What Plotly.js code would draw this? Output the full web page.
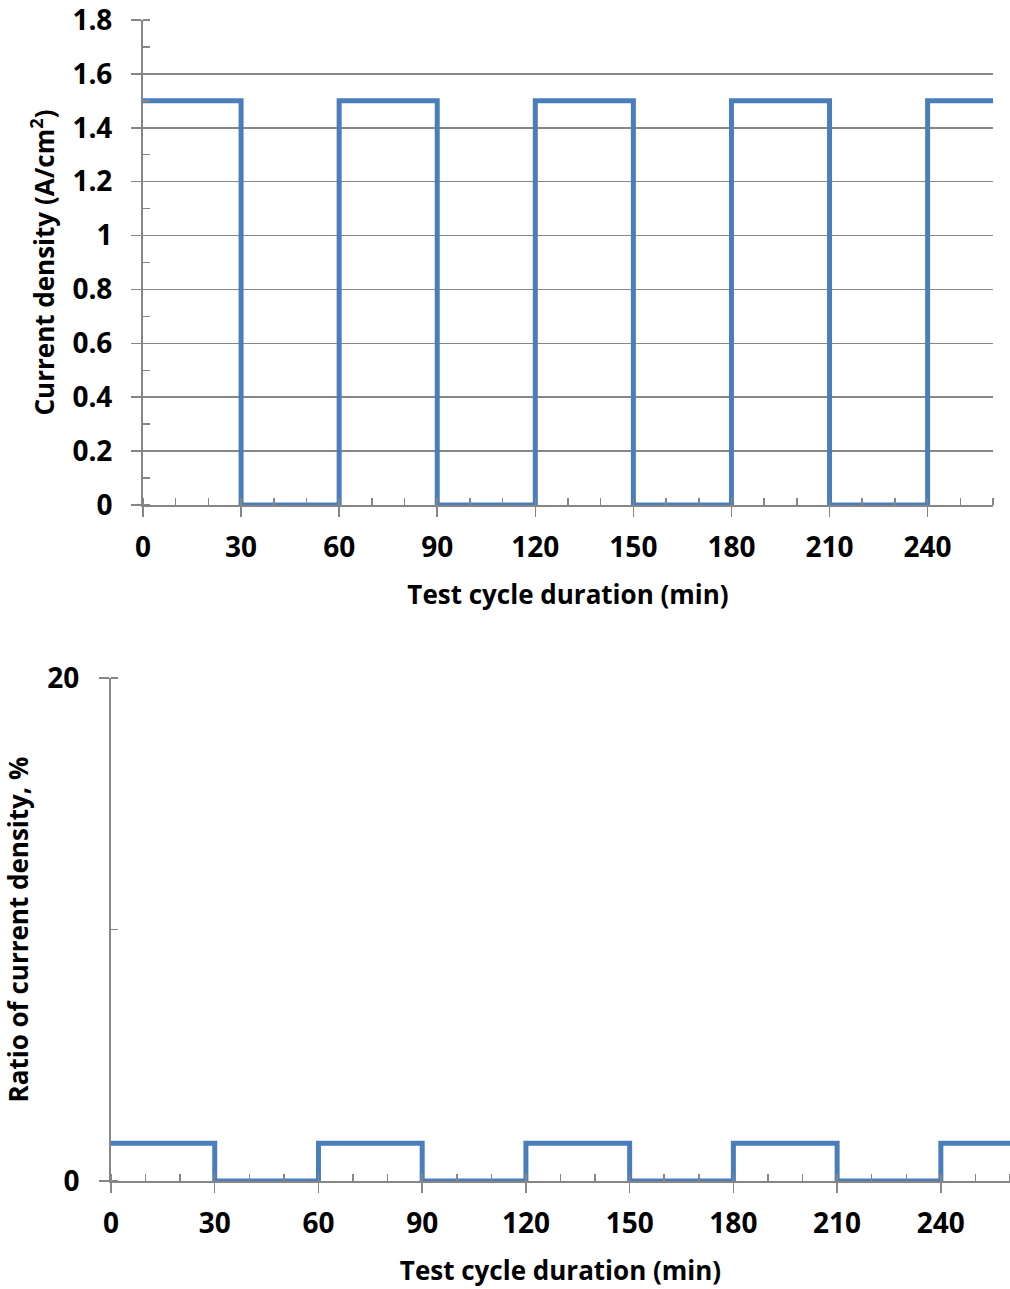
<!DOCTYPE html>
<html>
<head>
<meta charset="utf-8">
<script src="https://cdn.plot.ly/plotly-3.0.1.min.js"></script>
<style>html,body{margin:0;padding:0;background:#fff;}#chart{width:1010px;height:1289px;}</style>
</head>
<body>
<div id="chart"></div>
<script>
// Data
const timeMin = [0, 30, 60, 90, 120, 150, 180, 210, 240, 260];
const currentDensity = [1.5, 0, 1.5, 0, 1.5, 0, 1.5, 0, 1.5, 1.5];
const ratioPercent = [1.5, 0, 1.5, 0, 1.5, 0, 1.5, 0, 1.5, 1.5];
const xTickVals = [0, 30, 60, 90, 120, 150, 180, 210, 240];
const xTickText = ['0', '30', '60', '90', '120', '150', '180', '210', '240'];
const topYTickVals = [0, 0.2, 0.4, 0.6, 0.8, 1, 1.2, 1.4, 1.6, 1.8];
const topYTickText = ['0', '0.2', '0.4', '0.6', '0.8', '1', '1.2', '1.4', '1.6', '1.8'];
const botYTickVals = [0, 20];
const botYTickText = ['0', '20'];

const W = 1010, H = 1289;
const FONT = '"Open Sans", sans-serif';
const GRAY = '#868686';
const BLUE = '#4a7ebb';
const tickFont = {family: FONT, size: 28, color: '#000', weight: 700};
const titleFont = {family: FONT, size: 26, color: '#000', weight: 700};

const traces = [
  {x: timeMin, y: currentDensity, xaxis: 'x', yaxis: 'y', mode: 'lines',
   line: {shape: 'hv', color: BLUE, width: 5}, hoverinfo: 'skip'},
  {x: timeMin, y: ratioPercent, xaxis: 'x2', yaxis: 'y2', mode: 'lines',
   line: {shape: 'hv', color: BLUE, width: 5}, hoverinfo: 'skip'}
];

function xAxis(domain, anchor) {
  return {
    domain: domain, anchor: anchor, range: [0, 260],
    tickmode: 'array', tickvals: xTickVals, ticktext: xTickText,
    ticks: 'outside', ticklen: 10, tickwidth: 1.5, tickcolor: GRAY,
    minor: {dtick: 10, tick0: 0, ticks: 'inside', ticklen: 7, tickwidth: 1.5, tickcolor: GRAY, showgrid: false},
    showline: true, linecolor: GRAY, linewidth: 2,
    showgrid: false, zeroline: false,
    tickfont: tickFont, ticklabeloverflow: 'allow',
    ticklabelstandoff: 6,
    title: {text: 'Test cycle duration (min)', font: titleFont, standoff: 22}
  };
}

const layout = {
  width: W, height: H,
  margin: {l: 0, r: 0, t: 0, b: 0},
  paper_bgcolor: '#fff', plot_bgcolor: 'rgba(0,0,0,0)',
  showlegend: false,
  xaxis: xAxis([143 / W, 993 / W], 'y'),
  yaxis: {
    domain: [(H - 505) / H, (H - 20) / H], anchor: 'x', range: [0, 1.8],
    tickmode: 'array', tickvals: topYTickVals, ticktext: topYTickText,
    ticks: 'outside', ticklen: 10, tickwidth: 1.5, tickcolor: GRAY,
    minor: {dtick: 0.1, tick0: 0, ticks: 'inside', ticklen: 7, tickwidth: 1.5, tickcolor: GRAY, showgrid: false},
    showline: true, linecolor: GRAY, linewidth: 2,
    showgrid: true, gridcolor: GRAY, gridwidth: 1.5, zeroline: false,
    tickfont: tickFont, ticklabeloverflow: 'allow',
    ticklabelstandoff: 13,
    title: {text: 'Current density (A/cm<sup>2</sup>)', font: titleFont, standoff: 10}
  },
  xaxis2: xAxis([111 / W, 1], 'y2'),
  yaxis2: {
    domain: [(H - 1181) / H, (H - 678) / H], anchor: 'x2', range: [0, 20],
    tickmode: 'array', tickvals: botYTickVals, ticktext: botYTickText,
    ticks: 'outside', ticklen: 10, tickwidth: 1.5, tickcolor: GRAY,
    minor: {dtick: 10, tick0: 0, ticks: 'inside', ticklen: 7, tickwidth: 1.5, tickcolor: GRAY, showgrid: false},
    showline: true, linecolor: GRAY, linewidth: 2,
    showgrid: true, gridcolor: GRAY, gridwidth: 1.5, zeroline: false,
    tickfont: tickFont, ticklabeloverflow: 'allow',
    ticklabelstandoff: 14,
    title: {text: 'Ratio of current density, %', font: titleFont, standoff: 24}
  }
};

Plotly.newPlot('chart', traces, layout, {displayModeBar: false, staticPlot: true});
</script>
</body>
</html>
